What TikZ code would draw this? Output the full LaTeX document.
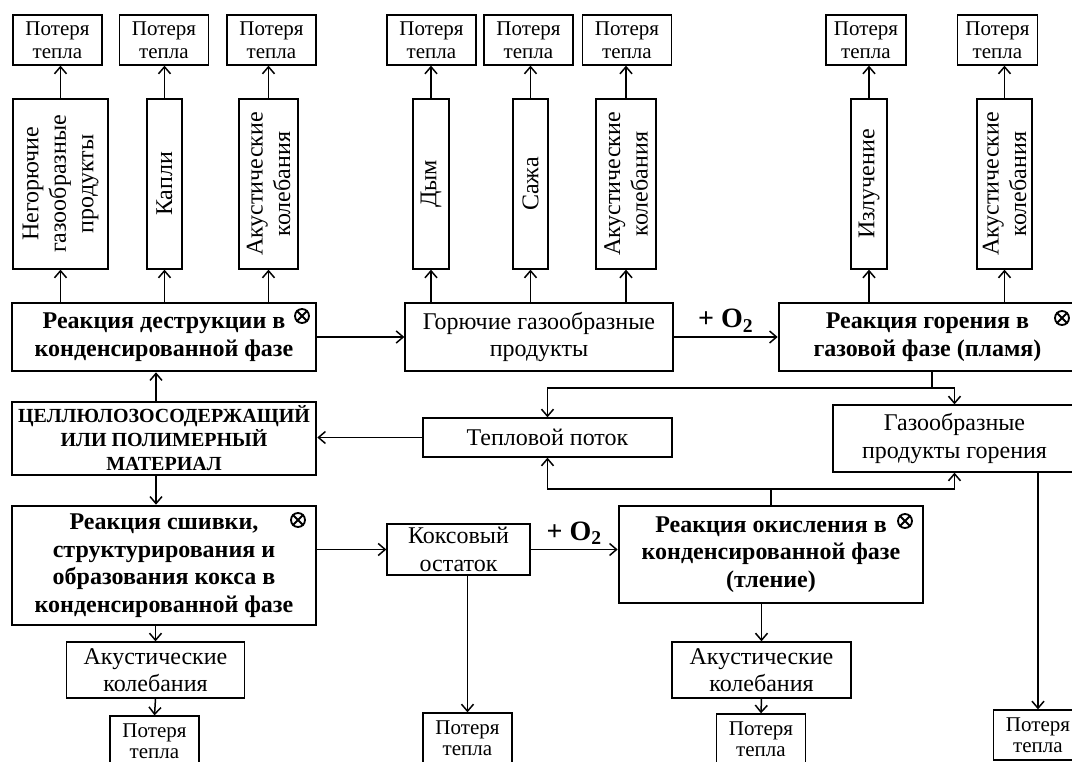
\documentclass[tikz,border=0pt]{standalone}
\usepackage{fontspec}
\setmainfont{Liberation Serif}
\usetikzlibrary{positioning,arrows.meta}

\begin{document}
\begin{tikzpicture}[
  x=1pt, y=-1pt,
  every node/.style={font=\fontsize{24}{27.5}\selectfont},
  box/.style={
    draw=black, line width=1.3pt, inner sep=2pt,
    align=center
  },
  rbox/.style={box, line width=2.6pt, font=\fontsize{24}{27.5}\selectfont\bfseries},
  loss/.style={box, minimum width=89pt, minimum height=50pt, font=\fontsize{21}{23}\selectfont},
  lossb/.style={loss, font=\fontsize{21}{20.5}\selectfont},
  vbox/.style={box, rotate=90, minimum width=170pt},
  plus/.style={font=\fontsize{28}{30}\selectfont\bfseries, inner sep=1pt},
  xmark/.style={circle, draw=black, line width=1.8pt, minimum size=14pt, inner sep=0pt},
  arr/.style={-{Straight Barb[length=7pt,width=12pt]}, line width=1.5pt},
  ln/.style={line width=1.5pt}
]
  \useasboundingbox (0,0) rectangle (1072,762);

  % Products (rotated boxes: east = top, west = bottom)
  \node[vbox, minimum height=95pt] (v1) at (60.5,184) {Негорючие\\газообразные\\продукты};
  \node[vbox, minimum height=35pt] (v2) at (164.5,184) {Капли};
  \node[vbox, minimum height=59pt] (v3) at (268.5,184) {Акустические\\колебания};
  \node[vbox, minimum height=36pt] (v4) at (431,184) {Дым};
  \node[vbox, minimum height=35pt] (v5) at (530.5,184) {Сажа};
  \node[vbox, minimum height=60pt] (v6) at (626,184) {Акустические\\колебания};
  \node[vbox, minimum height=36pt] (v7) at (869,184) {Излучение};
  \node[vbox, minimum height=55pt] (v8) at (1004.5,184) {Акустические\\колебания};

  % Heat losses (top)
  \node[loss] (p1) at (57.5,40) {Потеря\\тепла};
  \node[loss] (p2) at (164,40) {Потеря\\тепла};
  \node[loss] (p3) at (271.5,40) {Потеря\\тепла};
  \node[loss] (p4) at (431.5,40) {Потеря\\тепла};
  \node[loss] (p5) at (528.5,40) {Потеря\\тепла};
  \node[loss] (p6) at (627,40) {Потеря\\тепла};
  \node[loss, minimum width=80pt] (p7) at (866,40) {Потеря\\тепла};
  \node[loss, minimum width=80pt] (p8) at (997.5,40) {Потеря\\тепла};

  % Reactions, upper row
  \node[rbox, minimum width=304pt, minimum height=68pt] (destr) at (164,337) {Реакция деструкции в\\конденсированной фазе};
  \node[box, minimum width=268pt, minimum height=68pt] (gor) at (539,337) {Горючие газообразные\\продукты};
  \node[rbox, minimum width=297pt, minimum height=68pt] (flame) at (927.5,337) {Реакция горения в\\газовой фазе (пламя)};

  % Material and heat flow
  \node[rbox, minimum width=304pt, minimum height=73pt, font=\fontsize{20}{24}\selectfont\bfseries] (cell) at (164,438.5) {ЦЕЛЛЮЛОЗОСОДЕРЖАЩИЙ\\ИЛИ ПОЛИМЕРНЫЙ\\МАТЕРИАЛ};
  \node[box, minimum width=249pt, minimum height=39pt] (teplo) at (547.5,437.5) {Тепловой поток};
  \node[box, minimum width=243pt, minimum height=67pt] (gprod) at (954.5,438.5) {Газообразные\\продукты горения};

  % Reactions, lower row
  \node[rbox, minimum width=304pt, minimum height=119pt] (sshiv) at (164,565.5) {Реакция сшивки,\\структурирования и\\образования кокса в\\конденсированной фазе};
  \node[box, minimum width=143pt, minimum height=51pt] (koks) at (458.5,549.5) {Коксовый\\остаток};
  \node[rbox, minimum width=304pt, minimum height=97pt] (okis) at (771,554.5) {Реакция окисления в\\конденсированной фазе\\(тление)};

  % Acoustics and heat losses (bottom)
  \node[box, minimum width=178pt, minimum height=56pt] (ak1) at (155.5,670) {Акустические\\колебания};
  \node[box, minimum width=179pt, minimum height=56pt] (ak2) at (761.5,670) {Акустические\\колебания};
  \node[lossb] (pt1) at (154.5,741) {Потеря\\тепла};
  \node[lossb] (ptk) at (467.5,738) {Потеря\\тепла};
  \node[lossb] (pt2) at (761,739) {Потеря\\тепла};
  \node[lossb] (ptr) at (1038,735) {Потеря\\тепла};

  % Marks
  \node[xmark] (xd) at (302,316) {};
  \node[xmark] (xf) at (1062,318) {};
  \node[xmark] (xs) at (298,520) {};
  \node[xmark] (xo) at (905,521) {};
  \foreach \m in {xd, xf, xs, xo}
    \draw[line width=1.8pt] (\m.north west) -- (\m.south east) (\m.north east) -- (\m.south west);

  % Arrows up to products and losses
  \foreach \v/\r in {v1/destr, v2/destr, v3/destr, v4/gor, v5/gor, v6/gor, v7/flame, v8/flame}
    \draw[arr] (\v.west |- \r.north) -- (\v.west);
  \foreach \v/\p in {v1/p1, v2/p2, v3/p3, v4/p4, v5/p5, v6/p6, v7/p7, v8/p8}
    \draw[arr] (\v.east) -- (\v.east |- \p.south);

  % Main chain
  \draw[arr] (destr.east) -- (gor.west);
  \draw[arr] (gor.east) -- node[plus, above=3pt] (o2a) {+ O\textsubscript{2}} (flame.west);
  \draw[arr] ([xshift=-8pt]cell.north) -- ([xshift=-8pt]destr.south);
  \draw[arr] ([xshift=-8pt]cell.south) -- ([xshift=-8pt]sshiv.north);
  \draw[arr] (teplo.west) -- (teplo.west -| cell.east);

  % Flame to heat flow and gases
  \coordinate (fj) at (932,388);
  \draw[ln] (flame.south -| fj) -- (fj);
  \draw[arr] (fj) -| (teplo.north);
  \draw[arr] (fj) -| (gprod.north);

  % Smouldering to heat flow and gases
  \coordinate (oj) at (771,489);
  \draw[ln] (okis.north) -- (oj);
  \draw[arr] (oj) -| (teplo.south);
  \draw[arr] (oj) -| (gprod.south);
  \draw[arr] (gprod.south -| ptr.north) -- (ptr.north);

  % Char
  \draw[arr] (sshiv.east |- koks.west) -- (koks.west);
  \draw[arr] (koks.east) -- node[plus, above=3pt] (o2b) {+ O\textsubscript{2}} (koks.east -| okis.west);
  \draw[arr] (koks.south -| ptk.north) -- (ptk.north);

  % Lower losses
  \draw[arr] (sshiv.south -| ak1.north) -- (ak1.north);
  \draw[arr] (ak1.south) -- (pt1.north);
  \draw[arr] (okis.south -| ak2.north) -- (ak2.north);
  \draw[arr] (ak2.south) -- (pt2.north);
\end{tikzpicture}
\end{document}
